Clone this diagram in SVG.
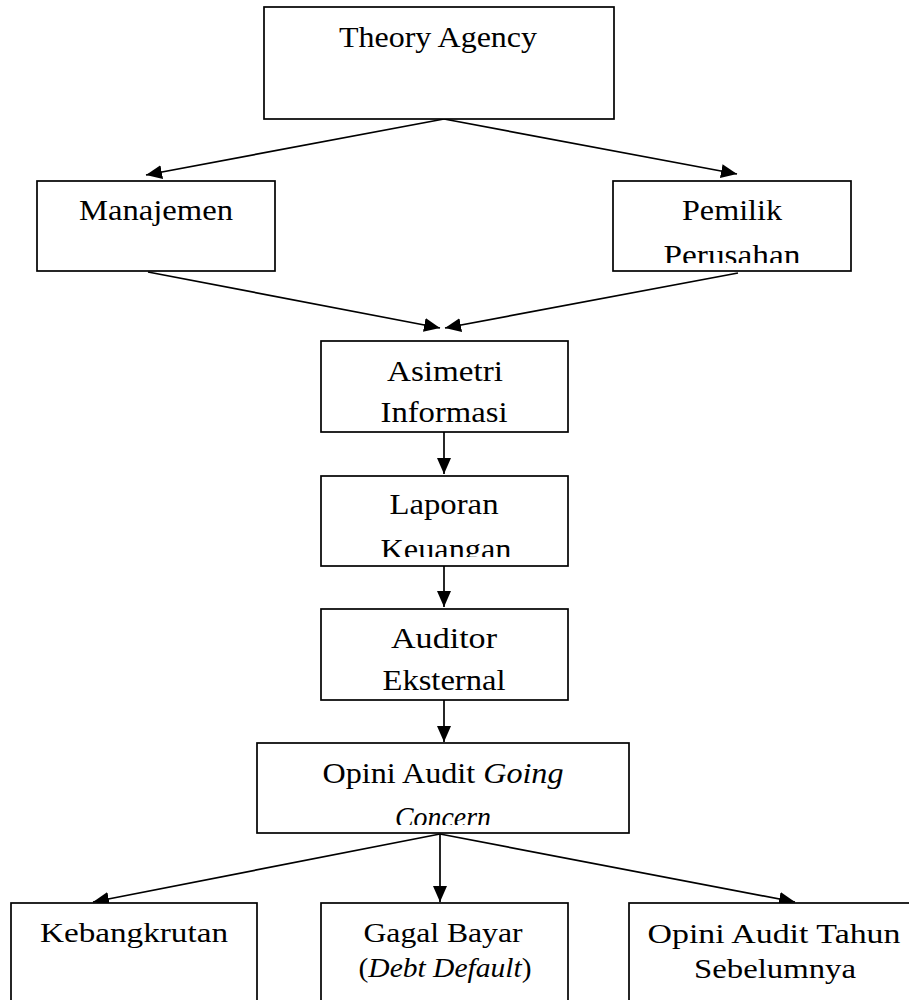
<svg xmlns="http://www.w3.org/2000/svg" width="909" height="1000" viewBox="0 0 909 1000">
<style>
.box{fill:#fff;stroke:#000;stroke-width:1.7}
.t{font-family:"Liberation Serif","Times New Roman",serif;font-size:30px;fill:#000;text-anchor:middle}
.s{font-size:28px}
.i{font-style:italic}
.c{fill:none;stroke:#000;stroke-width:1.7}
</style>
<defs>
<marker id="ah" markerUnits="userSpaceOnUse" markerWidth="16" markerHeight="14" refX="16" refY="7" orient="auto" viewBox="0 0 16 14">
<path d="M0,0 L16,7 L0,14 z" fill="#000"/>
</marker>
<clipPath id="clipPemilik"><rect x="613" y="181" width="238" height="82"/></clipPath>
<clipPath id="clipLaporan"><rect x="321" y="476" width="247" height="81"/></clipPath>
<clipPath id="clipOpini"><rect x="257" y="743" width="372" height="82"/></clipPath>
</defs>
<g id="connectors">
<line class="c" x1="444" y1="119" x2="146" y2="175" marker-end="url(#ah)"/>
<line class="c" x1="444" y1="119" x2="737" y2="174" marker-end="url(#ah)"/>
<line class="c" x1="148" y1="272" x2="440" y2="328" marker-end="url(#ah)"/>
<line class="c" x1="738" y1="273" x2="445" y2="328" marker-end="url(#ah)"/>
<line class="c" x1="444" y1="432" x2="444" y2="474" marker-end="url(#ah)"/>
<line class="c" x1="444" y1="566" x2="444" y2="607" marker-end="url(#ah)"/>
<line class="c" x1="444" y1="700" x2="444" y2="742" marker-end="url(#ah)"/>
<line class="c" x1="440" y1="834" x2="93" y2="902" marker-end="url(#ah)"/>
<line class="c" x1="440" y1="834" x2="440" y2="902" marker-end="url(#ah)"/>
<line class="c" x1="440" y1="834" x2="795" y2="902" marker-end="url(#ah)"/>
</g>
<g id="theory-agency">
<rect class="box" x="264" y="7" width="350" height="112"/>
<text class="t" x="438" y="47" textLength="198" lengthAdjust="spacingAndGlyphs">Theory Agency</text>
</g>
<g id="manajemen">
<rect class="box" x="37" y="181" width="238" height="90"/>
<text class="t" x="156" y="220" textLength="154" lengthAdjust="spacingAndGlyphs">Manajemen</text>
</g>
<g id="pemilik-perusahan">
<rect class="box" x="613" y="181" width="238" height="90"/>
<g clip-path="url(#clipPemilik)">
<text class="t" x="732" y="220" textLength="100" lengthAdjust="spacingAndGlyphs">Pemilik</text>
<text class="t" x="732" y="265" textLength="137" lengthAdjust="spacingAndGlyphs">Perusahan</text>
</g>
</g>
<g id="asimetri-informasi">
<rect class="box" x="321" y="341" width="247" height="91"/>
<text class="t" x="445" y="381" textLength="116" lengthAdjust="spacingAndGlyphs">Asimetri</text>
<text class="t" x="444" y="422" textLength="127" lengthAdjust="spacingAndGlyphs">Informasi</text>
</g>
<g id="laporan-keuangan">
<rect class="box" x="321" y="476" width="247" height="90"/>
<g clip-path="url(#clipLaporan)">
<text class="t" x="444" y="514" textLength="109" lengthAdjust="spacingAndGlyphs">Laporan</text>
<text class="t" x="446" y="559" textLength="131" lengthAdjust="spacingAndGlyphs">Keuangan</text>
</g>
</g>
<g id="auditor-eksternal">
<rect class="box" x="321" y="609" width="247" height="91"/>
<text class="t" x="444" y="648" textLength="106" lengthAdjust="spacingAndGlyphs">Auditor</text>
<text class="t" x="444" y="690" textLength="123" lengthAdjust="spacingAndGlyphs">Eksternal</text>
</g>
<g id="opini-going-concern">
<rect class="box" x="257" y="743" width="372" height="90"/>
<g clip-path="url(#clipOpini)">
<text class="t" x="443" y="783" textLength="241" lengthAdjust="spacingAndGlyphs">Opini Audit <tspan class="i">Going</tspan></text>
<text class="t i" x="443" y="827" textLength="96" lengthAdjust="spacingAndGlyphs">Concern</text>
</g>
</g>
<g id="kebangkrutan">
<rect class="box" x="11" y="903" width="246" height="110"/>
<text class="t s" x="134" y="942" textLength="188" lengthAdjust="spacingAndGlyphs">Kebangkrutan</text>
</g>
<g id="gagal-bayar">
<rect class="box" x="321" y="903" width="247" height="110"/>
<text class="t s" x="443" y="942" textLength="159" lengthAdjust="spacingAndGlyphs">Gagal Bayar</text>
<text class="t s" x="445" y="977" textLength="173" lengthAdjust="spacingAndGlyphs">(<tspan class="i">Debt Default</tspan>)</text>
</g>
<g id="opini-tahun-sebelumnya">
<rect class="box" x="629" y="903" width="290" height="110"/>
<text class="t s" x="774" y="943" textLength="253" lengthAdjust="spacingAndGlyphs">Opini Audit Tahun</text>
<text class="t s" x="775" y="978" textLength="162" lengthAdjust="spacingAndGlyphs">Sebelumnya</text>
</g>
</svg>
